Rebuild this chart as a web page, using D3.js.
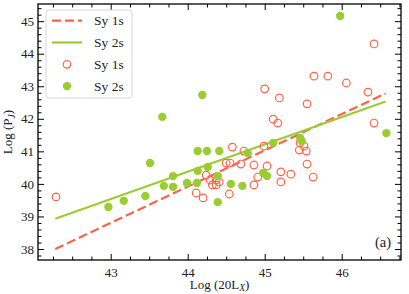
<!DOCTYPE html>
<html>
<head>
<meta charset="utf-8">
<script src="https://cdn.jsdelivr.net/npm/d3@7"></script>
<style>
    body { margin: 0; background: #fff; }
    #wrapper svg { display: block; }
    text { font-family: 'Liberation Serif', 'DejaVu Serif', serif; fill: #222; }
</style>
</head>
<body>
<div id="wrapper"></div>
<script>
// Sy 1s (open red circles)
const sy1X = [42.29, 46.42, 45.64, 45.82, 46.06, 45.00, 45.19, 45.55, 46.34, 45.11,
    45.17, 46.42, 44.58, 44.73, 44.99, 45.46, 45.51, 45.45, 45.54, 45.55,
    45.34, 45.63, 45.21, 45.21, 44.50, 44.55, 44.69, 44.86, 45.03, 44.24,
    44.29, 44.37, 44.32, 44.37, 44.41, 44.11, 44.20, 44.54, 44.91, 44.86]
const sy1Y = [39.60, 44.30, 43.31, 43.31, 43.10, 42.92, 42.64, 42.46, 42.82, 41.99,
    41.87, 41.87, 41.13, 41.01, 41.16, 41.26, 41.16, 41.04, 41.01, 40.61,
    40.30, 40.21, 40.37, 40.06, 40.64, 40.64, 40.61, 40.58, 40.55, 40.27,
    40.12, 40.12, 39.97, 39.97, 40.06, 39.72, 39.57, 39.69, 40.21, 39.97]

// Sy 2s (filled green circles)
const sy2X = [42.97, 43.17, 43.45, 43.51, 43.67, 44.19, 44.13, 44.25, 44.41, 43.81,
    44.13, 44.26, 43.69, 43.81, 43.99, 44.12, 44.39, 44.56, 44.71, 44.39,
    44.78, 45.11, 44.98, 45.03, 45.46, 45.48, 46.58, 45.98]
const sy2Y = [39.29, 39.48, 39.63, 40.64, 42.06, 42.73, 41.01, 41.01, 41.01, 40.24,
    40.40, 40.52, 39.94, 39.91, 40.03, 40.03, 40.24, 40.00, 39.94, 39.44,
    40.95, 41.26, 40.34, 40.24, 41.41, 41.32, 41.56, 45.16]

// fitted lines (end points)
const fitX = [42.28, 46.57]
const sy1Fit = [38.00, 42.78]
const sy2Fit = [38.93, 42.53]

const xTicks = [43, 44, 45, 46]
const yTicks = [38, 39, 40, 41, 42, 43, 44, 45]
const legendLabels = ['Sy 1s', 'Sy 2s', 'Sy 1s', 'Sy 2s']

const red = '#ff6347'
const green = '#9acd32'

function drawChart() {

    //#region dimensions
    let dimensions = {
        width: 409,
        height: 294,
        margin: { top: 4, right: 8, bottom: 34, left: 38 }
    }
    dimensions.boundedWidth = dimensions.width - dimensions.margin.left - dimensions.margin.right
    dimensions.boundedHeight = dimensions.height - dimensions.margin.top - dimensions.margin.bottom
    //#endregion

    //#region canvas
    const wrapper = d3.select('#wrapper')
        .append('svg')
        .attr('width', dimensions.width)
        .attr('height', dimensions.height)

    const bounds = wrapper.append('g')
        .attr('transform', `translate(${dimensions.margin.left},${dimensions.margin.top})`)
    //#endregion

    //#region scales
    const xScale = d3.scaleLinear()
        .domain([42.056, 46.77])
        .range([0, dimensions.boundedWidth])

    const yScale = d3.scaleLinear()
        .domain([37.662, 45.527])
        .range([dimensions.boundedHeight, 0])

    const xMinor = d3.range(169, 188).map(d => d / 4).filter(d => !xTicks.includes(d))
    const yMinor = d3.range(189, 228).map(d => d / 5).filter(d => !yTicks.includes(d))
    //#endregion

    //#region data
    const line = d3.line()
        .x(d => xScale(d[0]))
        .y(d => yScale(d[1]))

    bounds.append('path')
        .datum(d3.zip(fitX, sy1Fit))
        .attr('d', line)
        .attr('fill', 'none')
        .attr('stroke', red)
        .attr('stroke-width', 2.2)
        .attr('stroke-dasharray', '9,4')

    bounds.append('path')
        .datum(d3.zip(fitX, sy2Fit))
        .attr('d', line)
        .attr('fill', 'none')
        .attr('stroke', green)
        .attr('stroke-width', 2.2)

    bounds.selectAll('.sy1')
        .data(d3.zip(sy1X, sy1Y))
        .enter().append('circle')
        .attr('class', 'sy1')
        .attr('cx', d => xScale(d[0]))
        .attr('cy', d => yScale(d[1]))
        .attr('r', 3.8)
        .attr('fill', 'none')
        .attr('stroke', red)
        .attr('stroke-width', 1.2)

    bounds.selectAll('.sy2')
        .data(d3.zip(sy2X, sy2Y))
        .enter().append('circle')
        .attr('class', 'sy2')
        .attr('cx', d => xScale(d[0]))
        .attr('cy', d => yScale(d[1]))
        .attr('r', 4.2)
        .attr('fill', green)
    //#endregion

    //#region axes
    const axisStyle = (g) => {
        g.select('.domain').remove()
        g.selectAll('line').attr('stroke', '#000').attr('stroke-width', 1)
        g.selectAll('text').attr('font-size', 13).attr('fill', '#222')
            .style('font-family', "'Liberation Serif', serif")
    }

    const W = dimensions.boundedWidth
    const H = dimensions.boundedHeight

    bounds.append('g').attr('transform', `translate(0,${H})`)
        .call(d3.axisBottom(xScale).tickValues(xTicks).tickSize(-6).tickPadding(8).tickFormat(d3.format('d')))
        .call(axisStyle)
    bounds.append('g').attr('transform', `translate(0,${H})`)
        .call(d3.axisBottom(xScale).tickValues(xMinor).tickSize(-3.5).tickFormat(''))
        .call(axisStyle)
    bounds.append('g')
        .call(d3.axisTop(xScale).tickValues(xTicks).tickSize(-6).tickFormat(''))
        .call(axisStyle)
    bounds.append('g')
        .call(d3.axisTop(xScale).tickValues(xMinor).tickSize(-3.5).tickFormat(''))
        .call(axisStyle)

    bounds.append('g')
        .call(d3.axisLeft(yScale).tickValues(yTicks).tickSize(-6).tickPadding(4).tickFormat(d3.format('d')))
        .call(axisStyle)
    bounds.append('g')
        .call(d3.axisLeft(yScale).tickValues(yMinor).tickSize(-3.5).tickFormat(''))
        .call(axisStyle)
    bounds.append('g').attr('transform', `translate(${W},0)`)
        .call(d3.axisRight(yScale).tickValues(yTicks).tickSize(-6).tickFormat(''))
        .call(axisStyle)
    bounds.append('g').attr('transform', `translate(${W},0)`)
        .call(d3.axisRight(yScale).tickValues(yMinor).tickSize(-3.5).tickFormat(''))
        .call(axisStyle)

    bounds.append('rect')
        .attr('width', W)
        .attr('height', H)
        .attr('fill', 'none')
        .attr('stroke', '#000')
        .attr('stroke-width', 1.3)
    //#endregion

    //#region labels
    const xLabel = bounds.append('text')
        .attr('x', W / 2)
        .attr('y', H + 28.5)
        .attr('text-anchor', 'middle')
        .attr('font-size', 13)
    xLabel.append('tspan').text('Log (20L')
    xLabel.append('tspan').attr('font-size', 9.5).attr('font-style', 'italic').attr('dy', 2.5).text('X')
    xLabel.append('tspan').attr('dy', -2.5).text(')')

    const yLabel = bounds.append('text')
        .attr('transform', `translate(${-26},${H / 2}) rotate(-90)`)
        .attr('text-anchor', 'middle')
        .attr('font-size', 13)
    yLabel.append('tspan').text('Log (P')
    yLabel.append('tspan').attr('font-size', 9.5).attr('font-style', 'italic').attr('dy', 2.5).text('J')
    yLabel.append('tspan').attr('dy', -2.5).text(')')

    bounds.append('text')
        .attr('x', W - 10)
        .attr('y', H - 13)
        .attr('text-anchor', 'end')
        .attr('font-size', 14.5)
        .text('(a)')
    //#endregion

    //#region legend
    const legend = bounds.append('g').attr('transform', 'translate(8,6)')
    legend.append('rect')
        .attr('width', 86)
        .attr('height', 88)
        .attr('rx', 3)
        .attr('fill', '#fff')
        .attr('fill-opacity', 0.8)
        .attr('stroke', '#d6d6d6')
        .attr('stroke-width', 1)

    legendLabels.forEach((label, i) => {
        const row = legend.append('g').attr('transform', `translate(0,${10.7 + i * 21.8})`)
        if (i == 0) {
            row.append('line').attr('x1', 6).attr('x2', 36)
                .attr('stroke', red).attr('stroke-width', 2.2).attr('stroke-dasharray', '9,4')
        } else if (i == 1) {
            row.append('line').attr('x1', 6).attr('x2', 36)
                .attr('stroke', green).attr('stroke-width', 2.2)
        } else if (i == 2) {
            row.append('circle').attr('cx', 21).attr('r', 3.8)
                .attr('fill', 'none').attr('stroke', red).attr('stroke-width', 1.2)
        } else {
            row.append('circle').attr('cx', 21).attr('r', 4.2).attr('fill', green)
        }
        row.append('text')
            .attr('x', 48)
            .attr('y', 4.5)
            .attr('font-size', 13.5)
            .text(label)
    })
    //#endregion
}

drawChart()
</script>
</body>
</html>
